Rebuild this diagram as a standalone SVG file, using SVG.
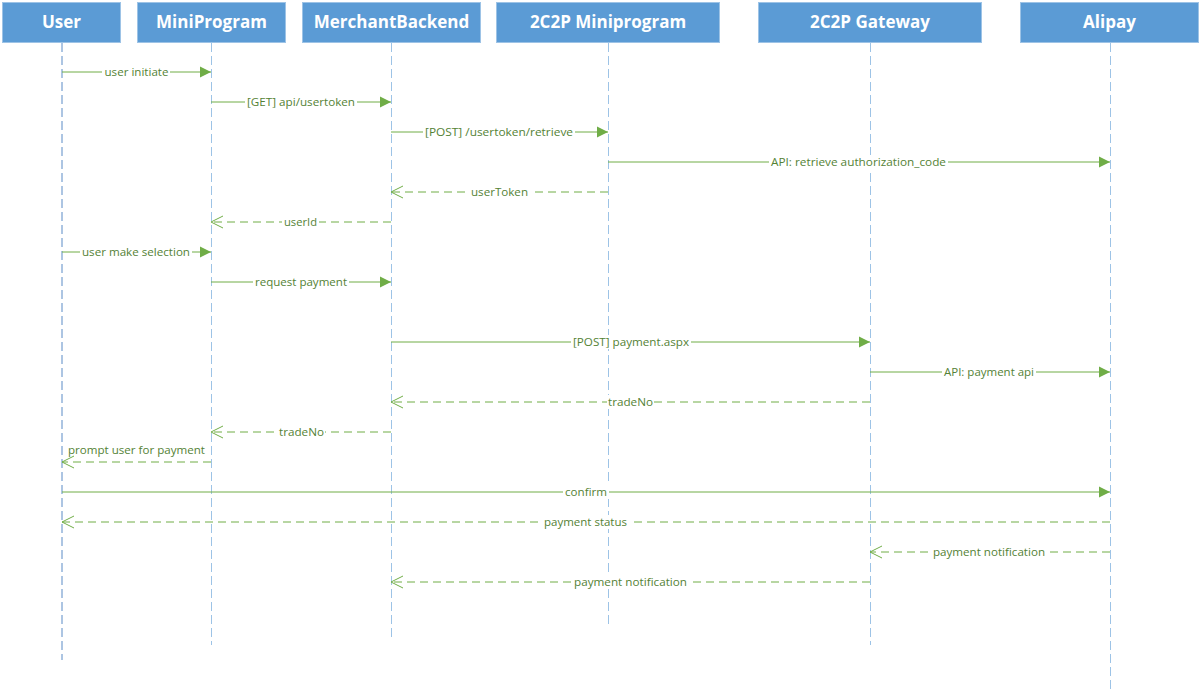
<svg xmlns="http://www.w3.org/2000/svg" width="1201" height="691" viewBox="0 0 1201 691">
<style>
.hdr{fill:#5B9BD5;stroke:#9DC3E6;stroke-width:1}
.ht{font-family:"Open Sans","Noto Sans",sans-serif;font-weight:bold;font-size:17px;fill:#FFFFFF;text-anchor:middle}
.ll{stroke:#9DC3E6;stroke-width:1;stroke-dasharray:9,4;fill:none}
.ll0{stroke:#5B8BC6}
.msg{stroke:#70AD47;stroke-width:1;fill:none}
.sol{marker-end:url(#sa)}
.ret{stroke-dasharray:8,5;marker-end:url(#oa)}
.lb{font-family:"Open Sans","Noto Sans",sans-serif;font-size:11px;fill:#548235;text-anchor:middle}
.bg{fill:#FFFFFF}
</style>
<defs>
<marker id="sa" markerWidth="12" markerHeight="12" refX="11" refY="6" orient="auto" markerUnits="userSpaceOnUse"><path d="M0,0.5 L11,6 L0,11.5 Z" fill="#70AD47"/></marker>
<marker id="oa" markerWidth="14" markerHeight="14" refX="12" refY="7" orient="auto" markerUnits="userSpaceOnUse"><path d="M0,1 L12,7 L0,13" fill="none" stroke="#70AD47" stroke-width="1"/></marker>
</defs>

<g id="lifelines">
<line class="ll ll0" x1="62" y1="43" x2="62" y2="660"/>
<line class="ll" x1="211.5" y1="43" x2="211.5" y2="645"/>
<line class="ll" x1="391.5" y1="43" x2="391.5" y2="638"/>
<line class="ll" x1="608.5" y1="43" x2="608.5" y2="628"/>
<line class="ll" x1="870.5" y1="43" x2="870.5" y2="645"/>
<line class="ll" x1="1110.5" y1="43" x2="1110.5" y2="691"/>
</g>

<g id="node-user"><rect class="hdr" x="2.5" y="2.5" width="118" height="40"/><text class="ht" x="61.5" y="28">User</text></g>
<g id="node-miniprogram"><rect class="hdr" x="137.5" y="2.5" width="148" height="40"/><text class="ht" x="211.5" y="28">MiniProgram</text></g>
<g id="node-merchantbackend"><rect class="hdr" x="302.5" y="2.5" width="178" height="40"/><text class="ht" x="391.5" y="28">MerchantBackend</text></g>
<g id="node-2c2p-miniprogram"><rect class="hdr" x="496.5" y="2.5" width="223" height="40"/><text class="ht" x="608" y="28">2C2P Miniprogram</text></g>
<g id="node-2c2p-gateway"><rect class="hdr" x="758.5" y="2.5" width="223" height="40"/><text class="ht" x="870" y="28">2C2P Gateway</text></g>
<g id="node-alipay"><rect class="hdr" x="1020.5" y="2.5" width="178" height="40"/><text class="ht" x="1109.5" y="28">Alipay</text></g>

<g id="connectors">
<line class="msg sol" x1="62" y1="72" x2="211" y2="72"/>
<rect class="bg" x="102" y="65" width="68" height="14"/><text class="lb" x="136.5" y="76" textLength="64" lengthAdjust="spacingAndGlyphs">user initiate</text>

<line class="msg sol" x1="211" y1="102" x2="391" y2="102"/>
<rect class="bg" x="245" y="95" width="112" height="14"/><text class="lb" x="301" y="106" textLength="108" lengthAdjust="spacingAndGlyphs">[GET] api/usertoken</text>

<line class="msg sol" x1="391" y1="132" x2="608" y2="132"/>
<rect class="bg" x="423" y="125" width="152" height="14"/><text class="lb" x="499" y="136" textLength="148" lengthAdjust="spacingAndGlyphs">[POST] /usertoken/retrieve</text>

<line class="msg sol" x1="608" y1="162" x2="1110" y2="162"/>
<rect class="bg" x="769" y="155" width="179" height="14"/><text class="lb" x="858.5" y="166" textLength="175" lengthAdjust="spacingAndGlyphs">API: retrieve authorization_code</text>

<line class="msg ret" x1="608" y1="192" x2="391" y2="192"/>
<rect class="bg" x="469" y="185" width="61" height="14"/><text class="lb" x="499.5" y="196" textLength="57" lengthAdjust="spacingAndGlyphs">userToken</text>

<line class="msg ret" x1="391" y1="222" x2="211" y2="222"/>
<rect class="bg" x="282" y="215" width="37" height="14"/><text class="lb" x="300.5" y="226" textLength="33" lengthAdjust="spacingAndGlyphs">userId</text>

<line class="msg sol" x1="62" y1="252" x2="211" y2="252"/>
<rect class="bg" x="80" y="245" width="112" height="14"/><text class="lb" x="136" y="256" textLength="108" lengthAdjust="spacingAndGlyphs">user make selection</text>

<line class="msg sol" x1="211" y1="282" x2="391" y2="282"/>
<rect class="bg" x="253" y="275" width="96" height="14"/><text class="lb" x="301" y="286" textLength="92" lengthAdjust="spacingAndGlyphs">request payment</text>

<line class="msg sol" x1="391" y1="342" x2="870" y2="342"/>
<rect class="bg" x="571" y="335" width="120" height="14"/><text class="lb" x="631" y="346" textLength="116" lengthAdjust="spacingAndGlyphs">[POST] payment.aspx</text>

<line class="msg sol" x1="870" y1="372" x2="1110" y2="372"/>
<rect class="bg" x="942" y="365" width="94" height="14"/><text class="lb" x="989" y="376" textLength="90" lengthAdjust="spacingAndGlyphs">API: payment api</text>

<line class="msg ret" x1="870" y1="402" x2="391" y2="402"/>
<rect class="bg" x="607" y="395" width="47" height="14"/><text class="lb" x="630.5" y="406" textLength="45" lengthAdjust="spacingAndGlyphs">tradeNo</text>

<line class="msg ret" x1="391" y1="432" x2="211" y2="432"/>
<rect class="bg" x="278" y="425" width="47" height="14"/><text class="lb" x="301.5" y="436" textLength="45" lengthAdjust="spacingAndGlyphs">tradeNo</text>

<line class="msg ret" x1="211" y1="462" x2="62" y2="462"/>
<text class="lb" x="136.5" y="454" textLength="137" lengthAdjust="spacingAndGlyphs">prompt user for payment</text>

<line class="msg sol" x1="62" y1="492" x2="1110" y2="492"/>
<rect class="bg" x="563" y="485" width="46" height="14"/><text class="lb" x="586" y="496" textLength="42" lengthAdjust="spacingAndGlyphs">confirm</text>

<line class="msg ret" x1="1110" y1="522" x2="62" y2="522"/>
<rect class="bg" x="542" y="515" width="87" height="14"/><text class="lb" x="585.5" y="526" textLength="83" lengthAdjust="spacingAndGlyphs">payment status</text>

<line class="msg ret" x1="1110" y1="552" x2="870" y2="552"/>
<rect class="bg" x="931" y="545" width="116" height="14"/><text class="lb" x="989" y="556" textLength="112" lengthAdjust="spacingAndGlyphs">payment notification</text>

<line class="msg ret" x1="870" y1="582" x2="391" y2="582"/>
<rect class="bg" x="572" y="575" width="117" height="14"/><text class="lb" x="630.5" y="586" textLength="113" lengthAdjust="spacingAndGlyphs">payment notification</text>
</g>
</svg>
